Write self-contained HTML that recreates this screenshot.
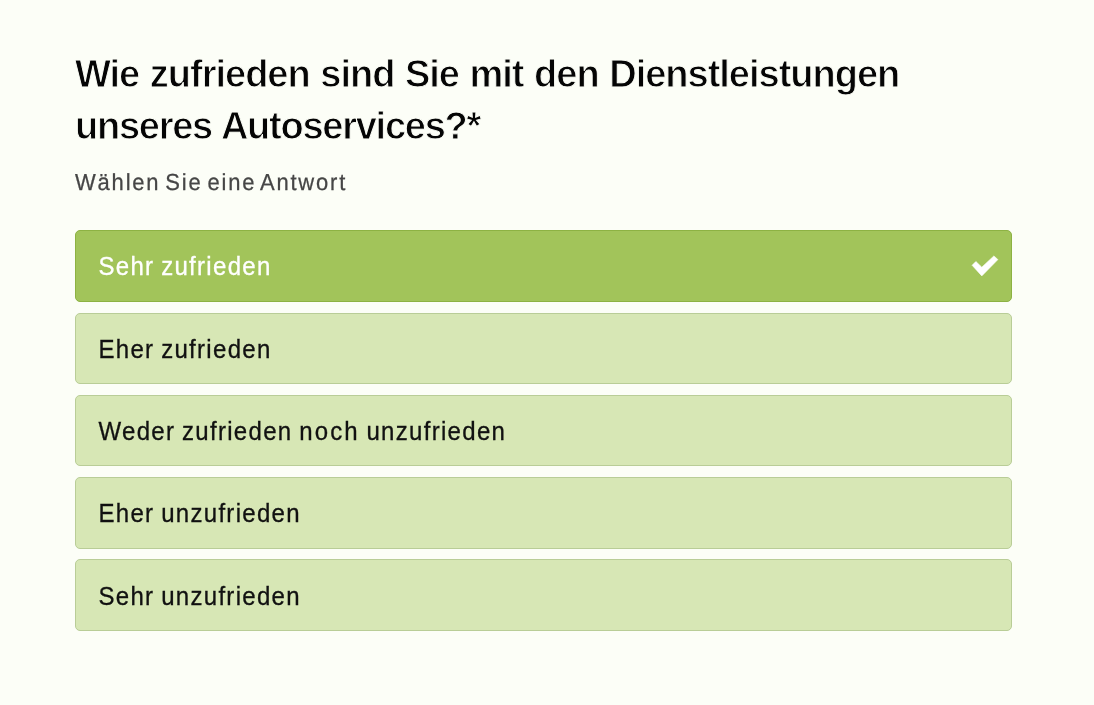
<!DOCTYPE html>
<html lang="de">
<head>
<meta charset="utf-8">
<title>Umfrage</title>
<style>
html,body{margin:0;padding:0;}
body{background:#fcfef7;font-family:"Liberation Sans",Arial,Helvetica,sans-serif;color:#0a0a0a;width:1094px;height:705px;overflow:hidden;position:relative;}
h1{position:absolute;left:75px;top:48px;margin:0;white-space:nowrap;font-size:38px;line-height:52px;font-weight:bold;width:980px;letter-spacing:-1px;word-spacing:1px;color:#050505;-webkit-text-stroke:0.95px #fcfef7;}
.sub{position:absolute;left:75px;top:163px;font-size:22px;line-height:40px;color:#464646;-webkit-text-stroke:0.25px #464646;letter-spacing:1.8px;word-spacing:-3px;white-space:nowrap;text-rendering:geometricPrecision;transform:scaleY(1.057);transform-origin:0 50%;}
.opt{position:absolute;left:75px;width:935px;height:69px;border:1px solid #b9cd97;border-radius:5px;background:#d7e7b5;font-size:24px;letter-spacing:1.3px;word-spacing:-1.2px;color:#111;}
.opt span{position:absolute;left:22.5px;top:50%;margin-top:-19px;line-height:40px;white-space:nowrap;transform:scaleY(1.05);transform-origin:0 50%;-webkit-text-stroke:0.3px currentColor;}
.opt.sel{background:#a2c45a;border-color:#8db243;color:#fff;}
</style>
</head>
<body>
<h1>Wie zufrieden sind Sie mit den Dienstleistungen<br><span style="letter-spacing:-1.25px">unseres Autoservices?*</span></h1>
<div class="sub">Wählen Sie eine Antwort</div>
<div class="opt sel" style="top:230px;height:70px"><span>Sehr zufrieden</span>
</div>
<div class="opt" style="top:313px"><span>Eher zufrieden</span></div>
<div class="opt" style="top:395px"><span>Weder zufrieden <i style="font-style:normal;letter-spacing:2.1px">noch</i> unzufrieden</span></div>
<div class="opt" style="top:477px;height:70px"><span>Eher unzufrieden</span></div>
<div class="opt" style="top:559px;height:70px"><span style="margin-top:-18px">Sehr unzufrieden</span></div>
<svg style="position:absolute;left:960px;top:245px" width="60" height="40" viewBox="960 245 60 40"><path d="M972.1 265.3 L975.9 261.5 L981.8 267.2 L993.9 255.9 L997.9 259.6 L981.8 275.9 Z" fill="#fff" stroke="#fff" stroke-width="0.6" stroke-linejoin="round"/></svg>
</body>
</html>
